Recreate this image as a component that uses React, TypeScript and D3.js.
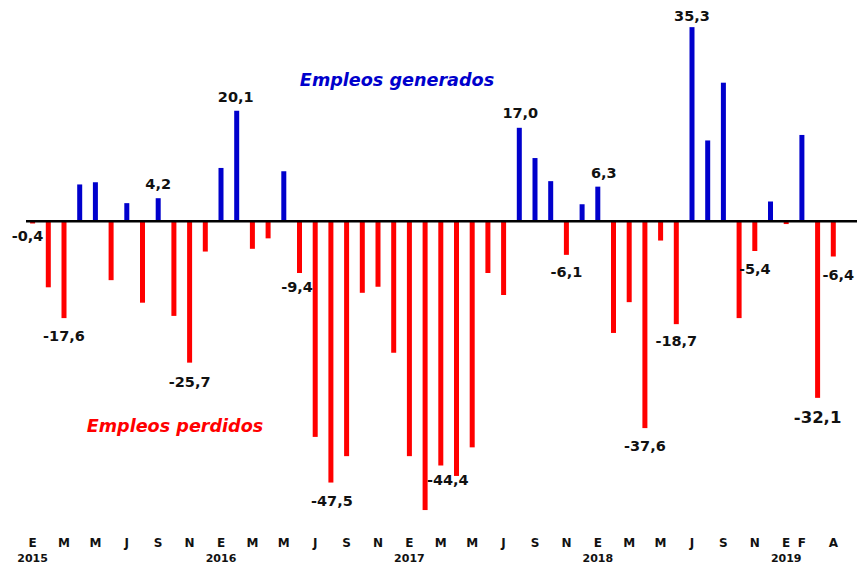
import React from "react";
import * as d3 from "d3";

// Monthly change (thousands), Jan 2015 – Apr 2019
const months = [
  "2015-01","2015-02","2015-03","2015-04","2015-05","2015-06","2015-07","2015-08","2015-09","2015-10","2015-11","2015-12",
  "2016-01","2016-02","2016-03","2016-04","2016-05","2016-06","2016-07","2016-08","2016-09","2016-10","2016-11","2016-12",
  "2017-01","2017-02","2017-03","2017-04","2017-05","2017-06","2017-07","2017-08","2017-09","2017-10","2017-11","2017-12",
  "2018-01","2018-02","2018-03","2018-04","2018-05","2018-06","2018-07","2018-08","2018-09","2018-10","2018-11","2018-12",
  "2019-01","2019-02","2019-03","2019-04",
];

const values = [
  -0.4, -12.0, -17.6, 6.7, 7.1, -10.7, 3.3, -14.8, 4.2, -17.2, -25.7, -5.5,
  9.7, 20.1, -5.0, -3.1, 9.1, -9.4, -39.2, -47.5, -42.7, -13.0, -11.9, -23.9,
  -42.7, -52.5, -44.4, -46.3, -41.1, -9.4, -13.4, 17.0, 11.5, 7.3, -6.1, 3.1,
  6.3, -20.3, -14.7, -37.6, -3.5, -18.7, 35.3, 14.7, 25.2, -17.6, -5.4, 3.6,
  -0.5, 15.7, -32.1, -6.4,
];

const monthTicks = [
  "E","","M","","M","","J","","S","","N","",
  "E","","M","","M","","J","","S","","N","",
  "E","","M","","M","","J","","S","","N","",
  "E","","M","","M","","J","","S","","N","",
  "E","F","","A",
];

const yearTicks = [
  { month: "2015-01", label: "2015" },
  { month: "2016-01", label: "2016" },
  { month: "2017-01", label: "2017" },
  { month: "2018-01", label: "2018" },
  { month: "2019-01", label: "2019" },
];

// Which bars carry a value label, with small layout nudges
const valueLabels = [
  { month: "2015-01", text: "-0,4", dx: -5, dy: 17 },
  { month: "2015-03", text: "-17,6", dx: 0, dy: 23 },
  { month: "2015-09", text: "4,2", dx: 0, dy: -9 },
  { month: "2015-11", text: "-25,7", dx: 0, dy: 24 },
  { month: "2016-02", text: "20,1", dx: -1, dy: -9 },
  { month: "2016-06", text: "-9,4", dx: -2.5, dy: 18.5 },
  { month: "2016-08", text: "-47,5", dx: 1, dy: 23 },
  { month: "2017-03", text: "-44,4", dx: 7, dy: 19 },
  { month: "2017-08", text: "17,0", dx: 1, dy: -10 },
  { month: "2017-11", text: "-6,1", dx: 0, dy: 22 },
  { month: "2018-01", text: "6,3", dx: 6, dy: -8.5 },
  { month: "2018-04", text: "-37,6", dx: 0, dy: 23 },
  { month: "2018-06", text: "-18,7", dx: 0, dy: 22 },
  { month: "2018-07", text: "35,3", dx: 0, dy: -6.5 },
  { month: "2018-11", text: "-5,4", dx: 0, dy: 23 },
  { month: "2019-03", text: "-32,1", dx: 0, dy: 25, big: true },
  { month: "2019-04", text: "-6,4", dx: 5, dy: 23 },
];

const W = 857;
const H = 565;
const BLUE = "#0000CC";
const RED = "#FF0000";
const FONT = "'DejaVu Sans', sans-serif";

export default function App() {
  const x = d3.scalePoint<string>().domain(months).range([32.6, 833.3]);
  const y = d3.scaleLinear().domain([-60, 40]).range([221.3 + 330, 221.3 - 220]);
  const bw = 5;
  const zero = y(0);

  return (
    <svg
      width={W}
      height={H}
      style={{ position: "absolute", left: 0, top: 0, background: "#fff" }}
      fontFamily={FONT}
    >
      <rect x={0} y={0} width={W} height={H} fill="#fff" />
      {months.map((m, i) => {
        const v = values[i];
        const y0 = y(Math.max(0, v));
        const y1 = y(Math.min(0, v));
        return (
          <rect
            key={m}
            x={(x(m) as number) - bw / 2}
            y={y0}
            width={bw}
            height={Math.max(0.5, y1 - y0)}
            fill={v >= 0 ? BLUE : RED}
          />
        );
      })}
      <line x1={26} x2={W} y1={zero} y2={zero} stroke="#000" strokeWidth={2.6} />

      {valueLabels.map((l) => {
        const i = months.indexOf(l.month);
        const v = values[i];
        return (
          <text
            key={l.month}
            x={(x(l.month) as number) + l.dx}
            y={y(v) + l.dy}
            textAnchor="middle"
            fontWeight="bold"
            fontSize={l.big ? 16.5 : 14.5}
            fill="#111"
          >
            {l.text}
          </text>
        );
      })}

      <text x={397} y={86} textAnchor="middle" fontWeight="bold" fontStyle="italic" fontSize={17.6} fill={BLUE}>
        Empleos generados
      </text>
      <text x={175} y={432} textAnchor="middle" fontWeight="bold" fontStyle="italic" fontSize={17.6} fill={RED}>
        Empleos perdidos
      </text>

      {months.map((m, i) =>
        monthTicks[i] ? (
          <text key={"t" + m} x={x(m) as number} y={547} textAnchor="middle" fontWeight="bold" fontSize={12} fill="#111">
            {monthTicks[i]}
          </text>
        ) : null
      )}
      {yearTicks.map((t) => (
        <text key={t.label} x={x(t.month) as number} y={562} textAnchor="middle" fontWeight="bold" fontSize={11} fill="#111">
          {t.label}
        </text>
      ))}
    </svg>
  );
}
